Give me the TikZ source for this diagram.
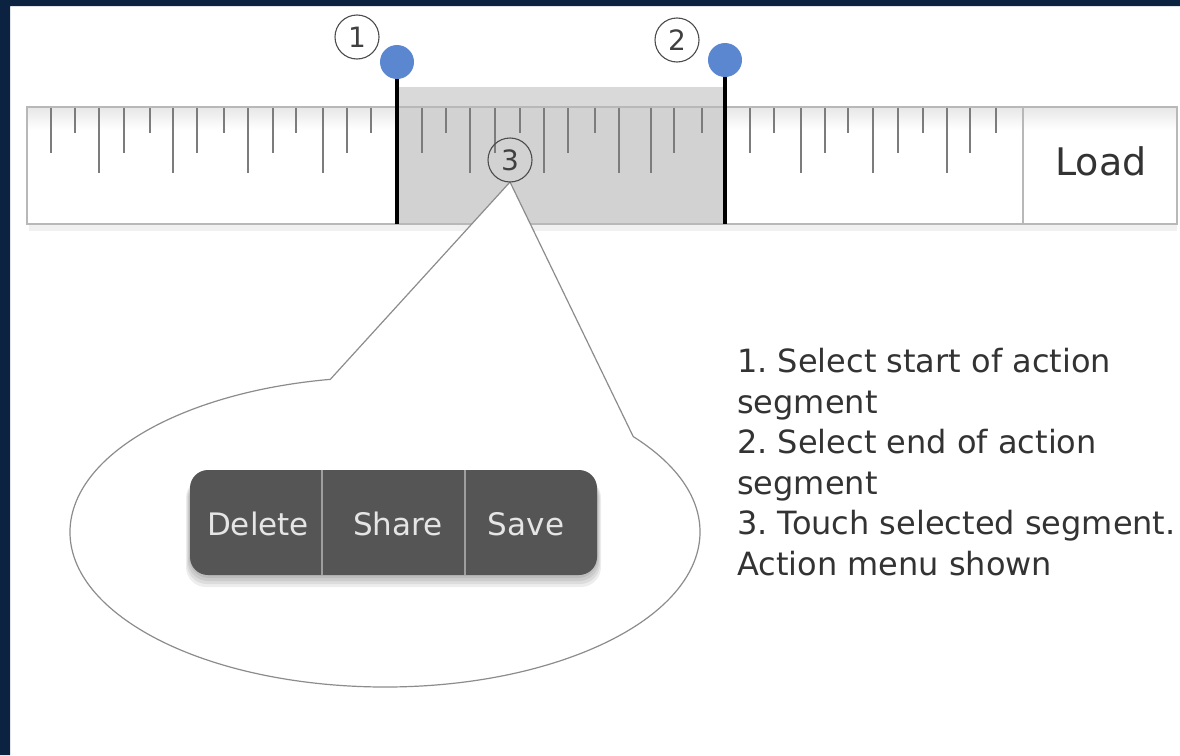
\documentclass[tikz,border=0pt]{standalone}
\usepackage{fontspec}
\setmainfont{DejaVu Sans}
\frenchspacing
\definecolor{framecol}{HTML}{0B2240}
\definecolor{knobblue}{HTML}{5B87D1}
\definecolor{menugray}{HTML}{555555}
\definecolor{tickgray}{HTML}{7C7C7C}
\definecolor{selgray}{HTML}{D2D2D2}
\tikzset{
  rulertick/.style={tickgray,line width=2.6pt},
  knobdot/.style={circle,fill=knobblue,minimum size=34pt,inner sep=0pt},
  knobline/.style={black,line width=3.5pt},
  numcirc/.style={circle,draw=black!70,line width=1.1pt,minimum size=44pt,inner sep=0pt,
    font=\fontsize{28}{28}\selectfont,text=black!75},
  menutext/.style={text=white!90!black,font=\fontsize{31}{31}\selectfont,anchor=base},
  divider/.style={black!38,line width=2.5pt},
}
\begin{document}
\begin{tikzpicture}[x=1pt,y=-1pt]
		\useasboundingbox (0,0) rectangle (1180,755);
		\fill[white] (0,0) rectangle (1180,755);
		\fill[framecol] (0,0) rectangle (1180,6) (0,0) rectangle (10,755);
		% ruler
		\fill[black!6] (29,224) rectangle (1177,231);
		\fill[white] (27,107) rectangle (1177,224);
		\shade[top color=black!9,bottom color=white] (28,108) rectangle (1176,130);
		\fill[selgray!85] (397,87) rectangle (725,107);
		\fill[selgray] (397,107) rectangle (725,224);
		\draw[black!28,line width=2pt] (27,107) rectangle (1177,224);
		\foreach \x/\len in {51/45,75/25,99/65,124/45,150/25,173/65,197/45,224/25,
			248/65,273/45,296/25,323/65,347/45,371/25,422/45,446/25,470/65,495/45,
			520/25,544/65,568/45,595/25,619/65,651/65,674/45,702/25,750/45,774/25,
			801/65,825/45,848/25,873/65,898/45,923/25,947/65,970/45,996/25}
		\draw[rulertick] (\x,108) -- ++(0,\len);
		\draw[black!28,line width=2pt] (1023,107) -- (1023,224);
		\node[font=\fontsize{38}{38}\selectfont,text=black!80,anchor=base] (load) at (1101,175) {Load};
		% handles
		\node[knobdot] (k1) at (397,62) {};
		\node[knobdot] (k2) at (725,60) {};
		\coordinate (b1) at (397,224);
		\coordinate (b2) at (725,224);
		\draw[knobline] (k1) -- (b1);
		\draw[knobline] (k2) -- (b2);
		% callout bubble
		\coordinate (bc) at (385,532);
		\coordinate (tip) at (510,182);
		\path (bc) ++(38:315pt and 155pt) coordinate (wr);
		\filldraw[draw=black!45,line width=1.2pt,fill=white] (tip) -- (wr)
			arc[start angle=38,end angle=-260,x radius=315pt,y radius=155pt] -- cycle;
		\node[numcirc] (n1) at (357,37) {1};
		\node[numcirc] (n2) at (677,40) {2};
		\node[numcirc] (n3) at (510,160) {3};
		% action menu
		\foreach \d in {3,6,9,12}
		\fill[black,opacity=.07,rounded corners=20pt] (190-\d/3,478) rectangle (597+\d/3,575+\d);
		\node[fill=menugray,rounded corners=18pt,minimum width=407pt,minimum height=105pt,
			inner sep=0pt] (menu) at (393.5,522.5) {};
		\draw[divider] (menu.north west) ++(132,0) -- ++(0,105);
		\draw[divider] (menu.north west) ++(275,0) -- ++(0,105);
		\node[menutext] (del) at (258,535) {Delete};
		\node[menutext] (share) at (398,535) {Share};
		\node[menutext] (save) at (526,535) {Save};
		% steps
		\node[anchor=north west,align=left,inner sep=0pt,text=black!80,
			font=\fontsize{32}{40.5}\selectfont] (steps) at (737,348)
			{1. Select start of action\\segment\\2. Select end of action\\segment\\
			 3. Touch selected segment.\\Action menu shown};
		\end{tikzpicture}
\end{document}
